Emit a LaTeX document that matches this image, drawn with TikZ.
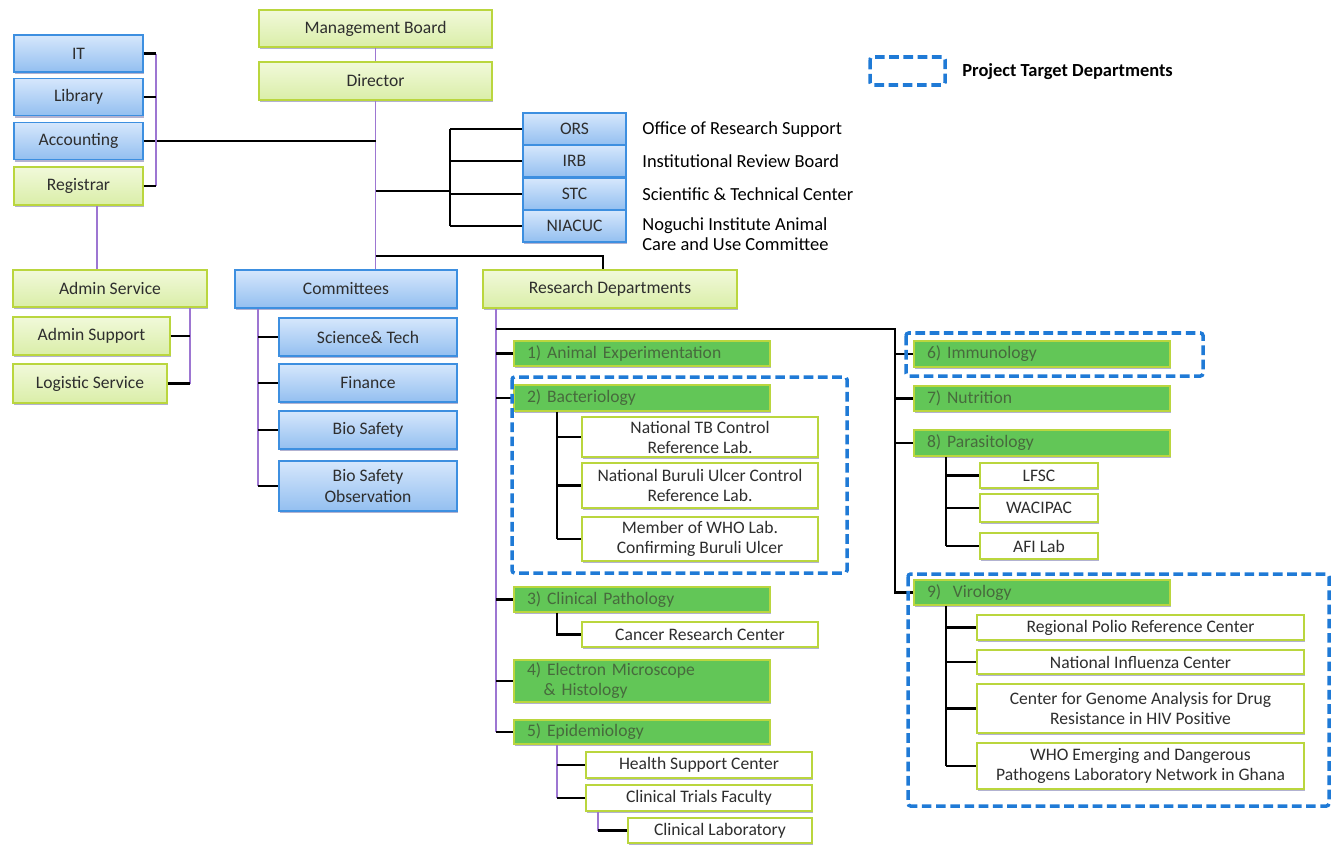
\documentclass[tikz,border=0pt]{standalone}
\usepackage{fontspec}
\setmainfont{Carlito}
\usepackage{xcolor}
\usepackage{tikz}
\usetikzlibrary{positioning,shadows,calc}
\definecolor{sky}{HTML}{3D8FE0}
\definecolor{skytop}{HTML}{D6E7FC}
\definecolor{skybot}{HTML}{93BFF0}
\definecolor{lime}{HTML}{BAD63E}
\definecolor{limetop}{HTML}{F1F9DA}
\definecolor{limebot}{HTML}{DAEEA8}
\definecolor{leaf}{HTML}{62C657}
\definecolor{moss}{HTML}{476A3D}
\definecolor{ink}{HTML}{2E2E2E}
\definecolor{lilac}{HTML}{9D76D2}
\definecolor{dashblue}{HTML}{1F7AD6}
\tikzset{
  box/.style={rectangle, inner sep=0pt, align=center, line width=0.8pt, text=ink,
              font=\fontsize{10}{11.4}\selectfont,
              drop shadow={shadow xshift=0.4pt, shadow yshift=-1.4pt, opacity=0.3, fill=black!60!blue}},
  bluebox/.style={box, draw=sky, top color=skytop, bottom color=skybot},
  limebox/.style={box, draw=lime, top color=limetop, bottom color=limebot},
  deptbox/.style={box, draw=lime, fill=leaf, text=moss, align=left, minimum width=5.12cm, text width=4.6cm},
  unitbox/.style={box, draw=lime, fill=white},
  lbl/.style={font=\fontsize{10.5}{11.4}\selectfont, text=black, align=left, inner sep=0pt},
  link/.style={draw=black, line width=1.2pt},
  tie/.style={draw=lilac, line width=1pt},
  target/.style={draw=dashblue, line width=2pt, dash pattern=on 5.5pt off 2.6pt, rounded corners=1.5pt}
}

\begin{document}
\begin{tikzpicture}[x=0.02cm, y=-0.02cm]
\useasboundingbox (0,0) rectangle (1337,845);

% board and director
\node[limebox, minimum width=4.66cm, minimum height=0.74cm] (mboard) at (375.5,28.5) {Management Board};
\node[limebox, minimum width=4.66cm, minimum height=0.76cm] (director) at (375.5,81) {Director};

% offices on the left
\node[bluebox, minimum width=2.58cm, minimum height=0.74cm] (it) at (78.5,53.5) {IT};
\node[bluebox, minimum width=2.58cm, minimum height=0.74cm] (library) at (78.5,97) {Library};
\node[bluebox, minimum width=2.58cm, minimum height=0.74cm] (accounting) at (78.5,141) {Accounting};
\node[limebox, minimum width=2.58cm, minimum height=0.76cm] (registrar) at (78.5,186) {Registrar};

% research support offices
\node[bluebox, minimum width=2.06cm, minimum height=0.64cm] (ors) at (574.5,129) {ORS};
\node[bluebox, minimum width=2.06cm, minimum height=0.64cm] (irb) at (574.5,161) {IRB};
\node[bluebox, minimum width=2.06cm, minimum height=0.64cm] (stc) at (574.5,194) {STC};
\node[bluebox, minimum width=2.06cm, minimum height=0.64cm] (niacuc) at (574.5,226) {NIACUC};
\node[lbl, anchor=west] (orsname) at (642,130) {Office of Research Support};
\node[lbl, anchor=west] (irbname) at (642,161) {Institutional Review Board};
\node[lbl, anchor=west] (stcname) at (642,194) {Scientific \& Technical Center};
\node[lbl, anchor=west] (niacucname) at (642,234) {Noguchi Institute Animal\\Care and Use Committee};

% admin service
\node[limebox, minimum width=3.88cm, minimum height=0.74cm] (adminsvc) at (110,288.5) {Admin Service};
\node[limebox, minimum width=3.14cm, minimum height=0.76cm] (adminsup) at (91.5,336) {Admin Support};
\node[limebox, minimum width=3.08cm, minimum height=0.78cm] (logistic) at (90,383.5) {Logistic Service};

% committees
\node[bluebox, minimum width=4.44cm, minimum height=0.76cm] (committees) at (346,289) {Committees};
\node[bluebox, minimum width=3.56cm, minimum height=0.76cm] (scitech) at (368,337) {Science\& Tech};
\node[bluebox, minimum width=3.56cm, minimum height=0.76cm] (finance) at (368,383) {Finance};
\node[bluebox, minimum width=3.56cm, minimum height=0.76cm] (biosafety) at (368,430) {Bio Safety};
\node[bluebox, minimum width=3.56cm, minimum height=1.0cm] (bioobs) at (368,486) {Bio Safety\\Observation};

% research departments
\node[limebox, minimum width=5.08cm, minimum height=0.76cm] (research) at (610,289) {Research Departments};
\node[deptbox, minimum height=0.5cm] (animal) at (642,353.5) {1) Animal Experimentation};
\node[deptbox, minimum height=0.52cm] (bacterio) at (642,398) {2) Bacteriology};
\node[deptbox, minimum height=0.5cm] (clinpath) at (642,599.5) {3) Clinical Pathology};
\node[deptbox, minimum height=0.84cm] (electron) at (642,681) {4) Electron Microscope\\\hspace*{0.95em}\& Histology};
\node[deptbox, minimum height=0.48cm] (epid) at (642,732) {5) Epidemiology};
\node[deptbox, minimum height=0.52cm] (immuno) at (1042,354) {6) Immunology};
\node[deptbox, minimum height=0.5cm] (nutrition) at (1042,398.5) {7) Nutrition};
\node[deptbox, minimum height=0.52cm] (parasit) at (1042,443) {8) Parasitology};
\node[deptbox, minimum height=0.5cm] (virology) at (1042,592.5) {9)\ \ Virology};

% units under the departments
\node[unitbox, minimum width=4.72cm, minimum height=0.8cm] (tblab) at (700,437) {National TB Control\\Reference Lab.};
\node[unitbox, minimum width=4.72cm, minimum height=0.9cm] (buruli) at (700,485.5) {National Buruli Ulcer Control\\Reference Lab.};
\node[unitbox, minimum width=4.72cm, minimum height=0.88cm] (whomember) at (700,539) {Member of WHO Lab.\\Confirming Buruli Ulcer};
\node[unitbox, minimum width=4.72cm, minimum height=0.5cm] (cancer) at (700,634.5) {Cancer Research Center};
\node[unitbox, minimum width=4.52cm, minimum height=0.52cm] (health) at (699,765) {Health Support Center};
\node[unitbox, minimum width=4.52cm, minimum height=0.52cm] (trials) at (699,798) {Clinical Trials Faculty};
\node[unitbox, minimum width=3.68cm, minimum height=0.5cm] (clinlab) at (720,830.5) {Clinical Laboratory};
\node[unitbox, minimum width=2.36cm, minimum height=0.5cm] (lfsc) at (1039,475.5) {LFSC};
\node[unitbox, minimum width=2.36cm, minimum height=0.56cm] (wacipac) at (1039,508) {WACIPAC};
\node[unitbox, minimum width=2.36cm, minimum height=0.52cm] (afilab) at (1039,546) {AFI Lab};
\node[unitbox, minimum width=6.54cm, minimum height=0.5cm] (polio) at (1140.5,627.5) {Regional Polio Reference Center};
\node[unitbox, minimum width=6.54cm, minimum height=0.48cm] (influenza) at (1140.5,662) {National Influenza Center};
\node[unitbox, minimum width=6.54cm, minimum height=0.98cm] (genome) at (1140.5,708.5) {Center for Genome Analysis for Drug\\Resistance in HIV Positive};
\node[unitbox, minimum width=6.54cm, minimum height=0.92cm] (whonet) at (1140.5,766) {WHO Emerging and Dangerous\\Pathogens Laboratory Network in Ghana};

% bus lines
\coordinate (itbus) at (156,0);
\coordinate (regdrop) at (97,0);
\coordinate (orsbus) at (450,0);
\coordinate (orsjoin) at (450,191);
\coordinate (rdjoin) at (603,256);
\coordinate (admbus) at (190,0);
\coordinate (combus) at (258,0);
\coordinate (rdbus) at (496,0);
\coordinate (rdright) at (895,329);
\coordinate (bacbus) at (557,0);
\coordinate (trialbus) at (598,0);
\coordinate (parbus) at (946,0);

% connectors
\draw[tie] (mboard) -- (director);
\draw[tie] (director.south) -- (director.south |- committees.north);
\draw[link] (accounting.east) -- (accounting.east -| director.south);
\draw[tie] (itbus |- it.east) -- (itbus |- registrar.east);
\foreach \n in {it,library,registrar}
  \draw[link] (\n.east) -- (itbus |- \n.east);
\draw[tie] (regdrop |- registrar.south) -- (regdrop |- adminsvc.north);

\draw[link] (director.south |- orsjoin) -- (orsjoin);
\draw[link] (orsbus |- ors.west) -- (orsbus |- niacuc.west);
\foreach \n in {ors,irb,stc,niacuc}
  \draw[link] (orsbus |- \n.west) -- (\n.west);
\draw[link] (director.south |- rdjoin) -- (rdjoin) -- (rdjoin |- research.north);

\draw[tie] (admbus |- adminsvc.south) -- (admbus |- logistic.east);
\foreach \n in {adminsup,logistic}
  \draw[link] (\n.east) -- (admbus |- \n.east);

\draw[tie] (combus |- committees.south) -- (combus |- bioobs.west);
\foreach \n in {scitech,finance,biosafety,bioobs}
  \draw[link] (combus |- \n.west) -- (\n.west);

\draw[tie] (rdbus |- research.south) -- (rdbus |- epid.west);
\foreach \n in {animal,bacterio,clinpath,electron,epid}
  \draw[link] (rdbus |- \n.west) -- (\n.west);
\draw[link] (rdbus |- rdright) -- (rdright) |- (virology.west);
\foreach \n in {immuno,nutrition,parasit}
  \draw[link] (rdright |- \n.west) -- (\n.west);

\draw[link] (bacbus |- bacterio.south) -- (bacbus |- whomember.west);
\foreach \n in {tblab,buruli,whomember}
  \draw[link] (bacbus |- \n.west) -- (\n.west);
\draw[link] (bacbus |- clinpath.south) |- (cancer.west);
\draw[tie] (bacbus |- epid.south) -- (bacbus |- trials.west);
\foreach \n in {health,trials}
  \draw[link] (bacbus |- \n.west) -- (\n.west);
\draw[tie] (trialbus |- trials.south) -- (trialbus |- clinlab.west);
\draw[link] (trialbus |- clinlab.west) -- (clinlab.west);

\draw[link] (parbus |- parasit.south) -- (parbus |- afilab.west);
\foreach \n in {lfsc,wacipac,afilab}
  \draw[link] (parbus |- \n.west) -- (\n.west);
\draw[link] (parbus |- virology.south) -- (parbus |- whonet.west);
\foreach \n in {polio,influenza,genome,whonet}
  \draw[link] (parbus |- \n.west) -- (\n.west);

% target frames and legend
\draw[target] (512,377) rectangle (847,573);
\draw[target] (906,333) rectangle (1203,376);
\draw[target] (908,574) rectangle (1329,806);
\draw[target] (870,57) rectangle (945,85);
\node[lbl, font=\fontsize{10.5}{12}\selectfont\bfseries, anchor=west] (legend) at (962,72) {Project Target Departments};
\end{tikzpicture}
\end{document}
